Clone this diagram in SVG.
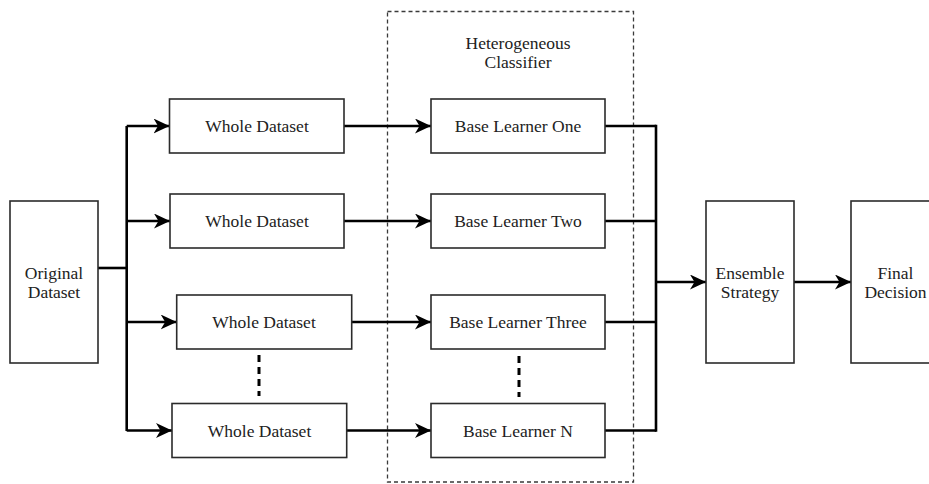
<svg xmlns="http://www.w3.org/2000/svg" width="929" height="484" viewBox="0 0 929 484">
  <style>
    .box { fill: #ffffff; stroke: #2b2b2b; stroke-width: 1.6; }
    .lbl { font-family: "Liberation Serif", "Times New Roman", Times, serif; font-size: 17.5px; fill: #222222; text-anchor: middle; }
    .wire { fill: none; stroke: #000000; stroke-width: 2.6; }
    .arrow { fill: none; stroke: #000000; stroke-width: 2.6; marker-end: url(#head); }
    .gap { fill: none; stroke: #000000; stroke-width: 3; stroke-dasharray: 7 5; }
    .frame { fill: none; stroke: #3a3a3a; stroke-width: 1.3; stroke-dasharray: 4 3; }
  </style>
  <defs>
    <marker id="head" markerUnits="userSpaceOnUse" markerWidth="18" markerHeight="16" refX="16" refY="7.5" orient="auto">
      <path d="M16,7.5 L0,0 L4.5,7.5 L0,15 Z" fill="#000000"/>
    </marker>
  </defs>

  <rect width="929" height="484" fill="#ffffff"/>

  <!-- classifier frame -->
  <g id="heterogeneous-classifier">
    <rect class="frame" x="387.5" y="11.5" width="246" height="470.5"/>
    <text class="lbl" x="518" y="49">Heterogeneous</text>
    <text class="lbl" x="518" y="68">Classifier</text>
  </g>

  <!-- connectors -->
  <g id="connectors">
    <!-- split from the original dataset -->
    <path class="wire" d="M98,268 H126.7"/>
    <path class="wire" d="M126.7,126 V431"/>
    <path class="arrow" d="M126.7,126 H169.5"/>
    <path class="arrow" d="M126.7,221 H170"/>
    <path class="arrow" d="M126.7,322 H176.7"/>
    <path class="arrow" d="M126.7,430.5 H172"/>
    <!-- datasets to learners -->
    <path class="arrow" d="M344,126 H431"/>
    <path class="arrow" d="M344,221 H431"/>
    <path class="arrow" d="M351.7,322 H431"/>
    <path class="arrow" d="M346.7,430.5 H431"/>
    <!-- learners to the combiner -->
    <path class="wire" d="M605,126 H656"/>
    <path class="wire" d="M605,221 H656"/>
    <path class="wire" d="M605,322 H656"/>
    <path class="wire" d="M605,430.5 H656"/>
    <path class="wire" d="M656,124.7 V431.8"/>
    <path class="arrow" d="M656,282 H706"/>
    <path class="arrow" d="M794,282 H851"/>
    <!-- elided rows -->
    <path class="gap" d="M259,355 V396"/>
    <path class="gap" d="M519,356 V397"/>
  </g>

  <g id="original-dataset">
    <rect class="box" x="10" y="201" width="88" height="162"/>
    <text class="lbl" x="54" y="279">Original</text>
    <text class="lbl" x="54" y="297.5">Dataset</text>
  </g>

  <g id="whole-dataset-1">
    <rect class="box" x="169.5" y="99" width="174.5" height="54"/>
    <text class="lbl" x="257" y="132">Whole Dataset</text>
  </g>
  <g id="whole-dataset-2">
    <rect class="box" x="170" y="194" width="174" height="54"/>
    <text class="lbl" x="257" y="227">Whole Dataset</text>
  </g>
  <g id="whole-dataset-3">
    <rect class="box" x="176.7" y="295" width="175" height="54"/>
    <text class="lbl" x="264" y="328">Whole Dataset</text>
  </g>
  <g id="whole-dataset-n">
    <rect class="box" x="172" y="403.5" width="174.7" height="54"/>
    <text class="lbl" x="259.5" y="436.5">Whole Dataset</text>
  </g>

  <g id="base-learner-one">
    <rect class="box" x="431" y="99" width="174" height="54"/>
    <text class="lbl" x="518" y="132">Base Learner One</text>
  </g>
  <g id="base-learner-two">
    <rect class="box" x="431" y="194" width="174" height="54"/>
    <text class="lbl" x="518" y="227">Base Learner Two</text>
  </g>
  <g id="base-learner-three">
    <rect class="box" x="431" y="295" width="174" height="54"/>
    <text class="lbl" x="518" y="328">Base Learner Three</text>
  </g>
  <g id="base-learner-n">
    <rect class="box" x="431" y="403.5" width="174" height="54"/>
    <text class="lbl" x="518" y="436.5">Base Learner N</text>
  </g>

  <g id="ensemble-strategy">
    <rect class="box" x="706" y="201" width="88" height="162"/>
    <text class="lbl" x="750" y="279">Ensemble</text>
    <text class="lbl" x="750" y="297.5">Strategy</text>
  </g>

  <g id="final-decision">
    <rect class="box" x="851" y="201" width="88" height="162"/>
    <text class="lbl" x="895.5" y="279">Final</text>
    <text class="lbl" x="895.5" y="297.5">Decision</text>
  </g>
</svg>
